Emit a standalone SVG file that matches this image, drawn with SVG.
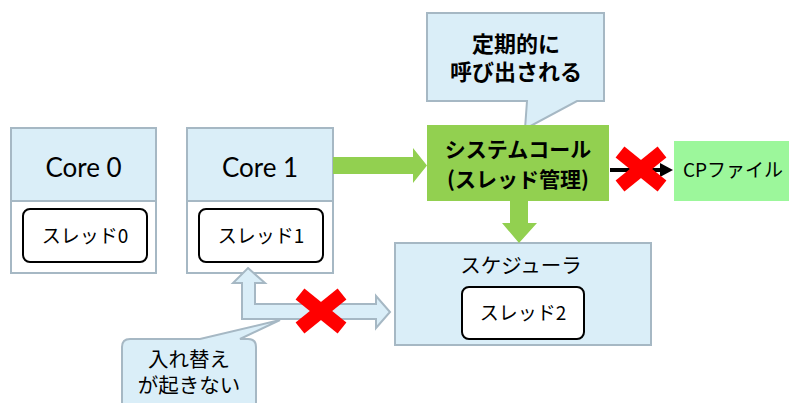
<svg xmlns="http://www.w3.org/2000/svg" width="789" height="403" viewBox="0 0 789 403">
<style>
.hdr{fill:#daeef8;stroke:#a6b8c4;stroke-width:2}
.body{fill:#ffffff;stroke:#a6b8c4;stroke-width:2}
.thr{fill:#ffffff;stroke:#000;stroke-width:2}
.t{font-family:"Noto Sans CJK JP",sans-serif;fill:#000;text-anchor:middle}
.core{font-family:Lato,"Noto Sans",sans-serif;font-size:26px;fill:#000;text-anchor:middle}
.green{fill:#92d050}
.x{stroke:#ff0000;stroke-width:14}
</style>
<defs>
<g id="redx"><line class="x" x1="-21" y1="-17" x2="21" y2="17"/><line class="x" x1="-21" y1="17" x2="21" y2="-17"/></g>
</defs>
<g id="core0">
<rect class="hdr" x="11" y="128" width="145" height="73"/>
<rect class="body" x="11" y="201" width="145" height="72"/>
<text class="core" x="83.5" y="177">Core 0</text>
<rect class="thr" x="23" y="209" width="124" height="53" rx="7"/>
<text class="t" x="85" y="243" font-size="19">スレッド0</text>
</g>
<g id="core1">
<rect class="hdr" x="187" y="128" width="146" height="73"/>
<rect class="body" x="187" y="201" width="146" height="72"/>
<text class="core" x="260" y="177">Core 1</text>
<rect class="thr" x="199" y="209" width="124" height="53" rx="7"/>
<text class="t" x="261" y="243" font-size="19">スレッド1</text>
</g>
<g id="callout1">
<path d="M427,13 H604 V101 H577 L525,129 L527,101 H427 Z" fill="#daeef8" stroke="#a6b8c4" stroke-width="2"/>
<text class="t" x="516" y="52" font-size="22" font-weight="bold">定期的に</text>
<text class="t" x="516" y="80" font-size="22" font-weight="bold">呼び出される</text>
</g>
<g id="syscall">
<rect class="green" x="427" y="125" width="182" height="76"/>
<text class="t" x="518" y="157" font-size="21" font-weight="bold">システムコール</text>
<text class="t" x="518" y="187" font-size="21" font-weight="bold">(スレッド管理)</text>
</g>
<g id="cpfile">
<rect x="674" y="141" width="115" height="60" fill="#9cf79b"/>
<text class="t" x="733" y="177" font-size="19">CPファイル</text>
</g>
<g id="scheduler">
<rect class="hdr" x="395" y="243" width="256" height="102"/>
<text class="t" x="521" y="273" font-size="20.5">スケジューラ</text>
<rect class="thr" x="462" y="287" width="122" height="52" rx="7"/>
<text class="t" x="523" y="320" font-size="19">スレッド2</text>
</g>
<g id="callout2">
<path d="M130,339 H200 L280,320 L240,339 H248 Q256,339 256,347 V405 H122 V347 Q122,339 130,339 Z" fill="#daeef8" stroke="#a6b8c4" stroke-width="2"/>
<text class="t" x="189" y="367" font-size="20.5">入れ替え</text>
<text class="t" x="189" y="393" font-size="20.5">が起きない</text>
</g>
<g id="connectors">
<path class="green" d="M333,157 H413 V148 L427,165.5 L413,183 V174 H333 Z"/>
<path class="green" d="M510,201 H528 V223 H537 L519,243 L502,223 H510 Z"/>
<line x1="610" y1="170" x2="662" y2="170" stroke="#000" stroke-width="4"/>
<path d="M660,163 L673,170 L660,177 Z" fill="#000"/>
<use href="#redx" x="641" y="169"/>
<path d="M248,268 L265,283 H255 V304 H376 V296 L390,312 L376,328 V319 H242 V283 H233 Z" fill="#daeef8" stroke="#a6b8c4" stroke-width="2"/>
<use href="#redx" x="321" y="311"/>
</g>
</svg>
